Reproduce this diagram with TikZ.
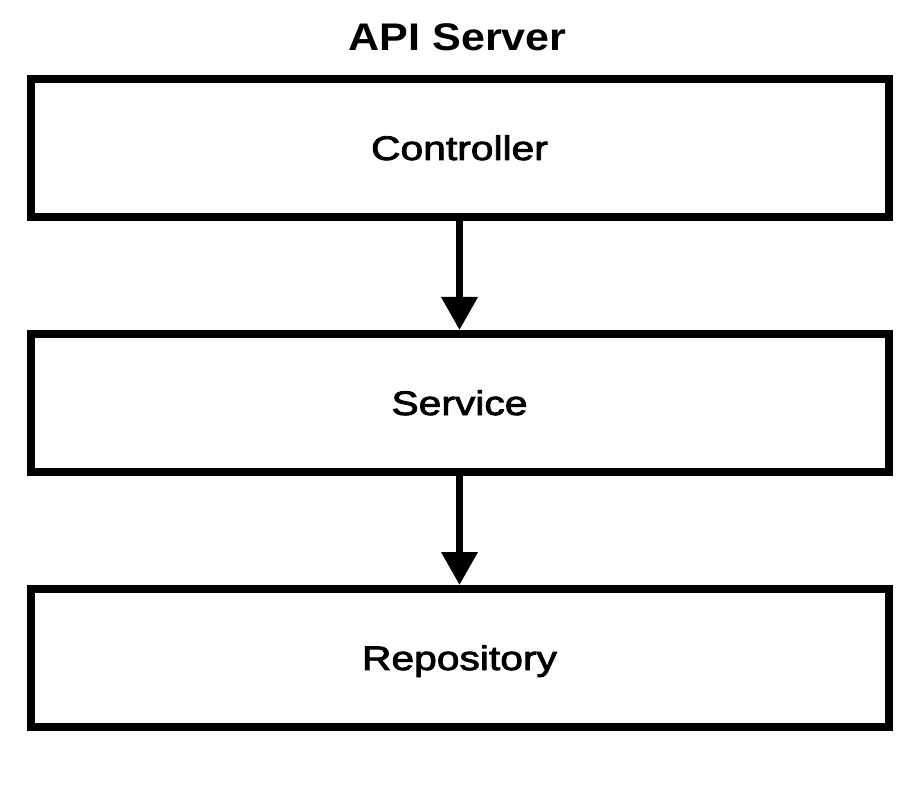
\documentclass[tikz,border=0pt]{standalone}
\usepackage{fontspec}
\setmainfont{Liberation Sans}
\newfontfamily\titfont{Liberation Sans}[FakeStretch=1.12]
\newfontfamily\labfont{Liberation Sans}[FakeStretch=1.2,FakeBold=2.5]
\usetikzlibrary{arrows.meta}
\tikzset{
  layerbox/.style={draw=black, line width=8pt, fill=white, minimum width=858pt, minimum height=138pt,
    inner sep=0pt, text height=24pt, text depth=0pt, font=\labfont\fontsize{34}{40}\selectfont},
  flowarrow/.style={line width=7pt, -{Triangle[width=35pt,length=33pt]}},
  titlestyle/.style={font=\titfont\bfseries\fontsize{38.5}{44}\selectfont, inner sep=0pt, anchor=base}
}
\begin{document}
\begin{tikzpicture}[x=1pt,y=-1pt]
\path[use as bounding box, fill=white] (0,0) rectangle (916,802);
\node[titlestyle] (title) at (457.5,51) {API Server};
\node[layerbox] (ctrl) at (459.5,148) {Controller};
\node[layerbox] (svc) at (459.5,403) {Service};
\node[layerbox] (repo) at (459.5,658) {Repository};
\draw[flowarrow] (ctrl.south) -- (svc.north);
\draw[flowarrow] (svc.south) -- (repo.north);
\end{tikzpicture}
\end{document}
